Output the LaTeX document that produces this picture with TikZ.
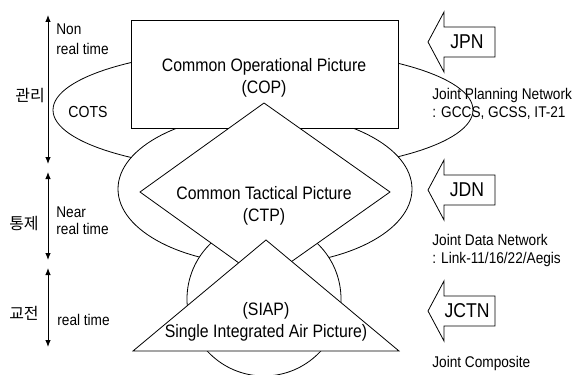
\documentclass[tikz,border=0pt]{standalone}
\usepackage{fontspec}
\setmainfont[FakeStretch=0.88]{Liberation Sans}
\newfontfamily\krfont{Noto Sans CJK KR}
\usetikzlibrary{arrows.meta}
\begin{document}
\begin{tikzpicture}[x=1pt, y=-1pt, line width=0.8pt,
  solid shape/.style={draw=black, fill=white, line width=0.8pt},
  main label/.style={font=\fontsize{18}{22}\selectfont, align=center, inner sep=0pt},
  side label/.style={font=\fontsize{15.5}{18}\selectfont, anchor=base west, inner sep=0pt},
  level label/.style={font=\krfont\fontsize{16}{18}\selectfont, inner sep=0pt},
  net label/.style={font=\fontsize{20}{22}\selectfont, inner sep=0pt},
  span arrow/.style={{Latex[length=7pt,width=5.5pt]}-{Latex[length=7pt,width=5.5pt]}, line width=0.9pt},
  block arrow/.style={draw=black, fill=white, line width=0.8pt}]
\useasboundingbox (0,0) rectangle (585,374);

% Layered shapes, back to front
\draw (263,110) ellipse [x radius=210, y radius=61];
\filldraw[solid shape] (265,189) ellipse [x radius=147, y radius=76];
\filldraw[solid shape] (264,299) circle [radius=77];
\filldraw[solid shape] (131,20) rectangle (398,128);
\filldraw[solid shape] (264,103) -- (390,192) -- (264,281) -- (140,192) -- cycle;
\filldraw[solid shape] (266,240) -- (399,351) -- (133,351) -- cycle;

% Picture names
\node[main label] (cop)  at (264,78)  {Common Operational Picture\\(COP)};
\node[main label] (ctp)  at (264,206) {Common Tactical Picture\\(CTP)};
\node[main label] (siap) at (266,322) {(SIAP)\\Single Integrated Air Picture)};
\node[font=\fontsize{16}{18}\selectfont, inner sep=0pt] (cots) at (88,112) {COTS};

% Level spans on the left
\coordinate (s1t) at (48,15);  \coordinate (s1b) at (48,164);
\coordinate (s2t) at (48,172); \coordinate (s2b) at (48,260);
\coordinate (s3t) at (48,268); \coordinate (s3b) at (48,347);
\draw[span arrow] (s1t) -- (s1b);
\draw[span arrow] (s2t) -- (s2b);
\draw[span arrow] (s3t) -- (s3b);

\node[level label] (lv1) at (30,96)  {관리};
\node[level label] (lv2) at (24,224) {통제};
\node[level label] (lv3) at (24,313) {교전};

\node[side label] (t1a) at (56,35)  {Non};
\node[side label] (t1b) at (56,55)  {real time};
\node[side label] (t2a) at (56,217) {Near};
\node[side label] (t2b) at (56,234) {real time};
\node[side label] (t3)  at (57,325) {real time};

% Network block arrows on the right
\foreach \nm/\yy/\txt in {jpn/42/JPN, jdn/190/JDN, jctn/311/JCTN}{
  \filldraw[block arrow] (428,\yy) -- (444,\yy-30) -- (444,\yy-15) -- (495,\yy-15)
    -- (495,\yy+15) -- (444,\yy+15) -- (444,\yy+30) -- cycle;
  \node[net label] (\nm) at (467,\yy) {\txt};
}

\node[side label] (n1a) at (432,100) {Joint Planning Network};
\node[side label] (n1b) at (432,118) {: GCCS, GCSS, IT-21};
\node[side label] (n2a) at (432,245) {Joint Data Network};
\node[side label] (n2b) at (432,263) {: Link-11/16/22/Aegis};
\node[side label] (n3a) at (432,367) {Joint Composite};
\end{tikzpicture}
\end{document}
